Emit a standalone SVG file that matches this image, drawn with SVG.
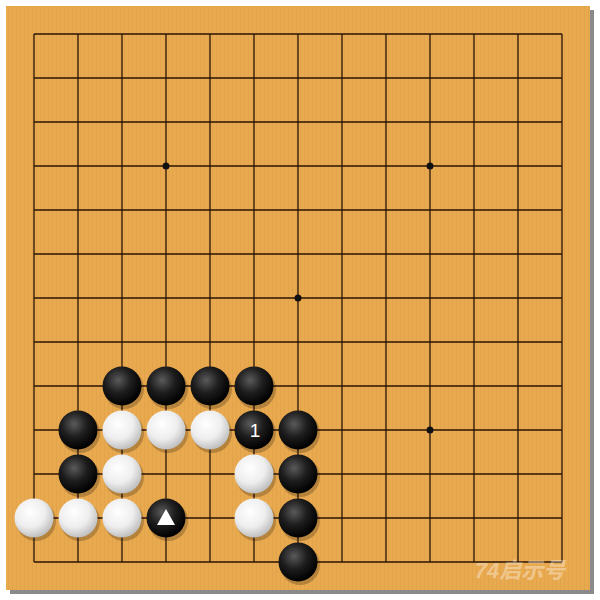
<svg xmlns="http://www.w3.org/2000/svg" width="600" height="600" viewBox="0 0 600 600">
<defs>
<style>
.grid line{stroke:#2a1408;stroke-width:1.3}
.star{fill:#111}
.b{fill:url(#gb)}
.w{fill:url(#gw)}
.sh{fill:#000;opacity:0.22}
.lbl{font-family:"Liberation Sans",Arial,sans-serif;font-size:19px;fill:#fff;text-anchor:middle}
</style>
<radialGradient id="gb" cx="0.4" cy="0.35" r="0.65">
<stop offset="0" stop-color="#5a5a5a"/>
<stop offset="0.5" stop-color="#1e1e1e"/>
<stop offset="1" stop-color="#000"/>
</radialGradient>
<radialGradient id="gw" cx="0.4" cy="0.35" r="0.7">
<stop offset="0" stop-color="#ffffff"/>
<stop offset="0.55" stop-color="#eeeeee"/>
<stop offset="1" stop-color="#b8b8b8"/>
</radialGradient>
<pattern id="wood" width="4" height="10" patternUnits="userSpaceOnUse">
<rect width="4" height="10" fill="#E9A94E"/>
<rect x="0" width="1" height="10" fill="#DDA049" opacity="0.6"/>
</pattern>
</defs>
<rect width="600" height="600" fill="#fff"/>
<rect x="10" y="10" width="584" height="584" fill="#8a8a8a"/>
<rect x="6" y="6" width="584" height="584" fill="url(#wood)"/>
<g class="grid" id="grid">
<line x1="34" y1="34" x2="562" y2="34"/><line x1="34" y1="78" x2="562" y2="78"/><line x1="34" y1="122" x2="562" y2="122"/><line x1="34" y1="166" x2="562" y2="166"/><line x1="34" y1="210" x2="562" y2="210"/><line x1="34" y1="254" x2="562" y2="254"/><line x1="34" y1="298" x2="562" y2="298"/><line x1="34" y1="342" x2="562" y2="342"/><line x1="34" y1="386" x2="562" y2="386"/><line x1="34" y1="430" x2="562" y2="430"/><line x1="34" y1="474" x2="562" y2="474"/><line x1="34" y1="518" x2="562" y2="518"/><line x1="34" y1="562" x2="562" y2="562"/>
<line x1="34" y1="34" x2="34" y2="562"/><line x1="78" y1="34" x2="78" y2="562"/><line x1="122" y1="34" x2="122" y2="562"/><line x1="166" y1="34" x2="166" y2="562"/><line x1="210" y1="34" x2="210" y2="562"/><line x1="254" y1="34" x2="254" y2="562"/><line x1="298" y1="34" x2="298" y2="562"/><line x1="342" y1="34" x2="342" y2="562"/><line x1="386" y1="34" x2="386" y2="562"/><line x1="430" y1="34" x2="430" y2="562"/><line x1="474" y1="34" x2="474" y2="562"/><line x1="518" y1="34" x2="518" y2="562"/><line x1="562" y1="34" x2="562" y2="562"/>
<circle class="star" cx="166" cy="166" r="3.5"/><circle class="star" cx="430" cy="166" r="3.5"/><circle class="star" cx="298" cy="298" r="3.5"/><circle class="star" cx="430" cy="430" r="3.5"/><circle class="star" cx="166" cy="430" r="3.5"/>
</g>
<g id="shadows">
<circle class="sh" cx="124" cy="389" r="20"/><circle class="sh" cx="168" cy="389" r="20"/><circle class="sh" cx="212" cy="389" r="20"/><circle class="sh" cx="256" cy="389" r="20"/>
<circle class="sh" cx="80" cy="433" r="20"/><circle class="sh" cx="124" cy="433" r="20"/><circle class="sh" cx="168" cy="433" r="20"/><circle class="sh" cx="212" cy="433" r="20"/><circle class="sh" cx="256" cy="433" r="20"/><circle class="sh" cx="300" cy="433" r="20"/>
<circle class="sh" cx="80" cy="477" r="20"/><circle class="sh" cx="124" cy="477" r="20"/><circle class="sh" cx="256" cy="477" r="20"/><circle class="sh" cx="300" cy="477" r="20"/>
<circle class="sh" cx="36" cy="521" r="20"/><circle class="sh" cx="80" cy="521" r="20"/><circle class="sh" cx="124" cy="521" r="20"/><circle class="sh" cx="168" cy="521" r="20"/><circle class="sh" cx="256" cy="521" r="20"/><circle class="sh" cx="300" cy="521" r="20"/>
<circle class="sh" cx="300" cy="565" r="20"/>
</g>
<g id="stone-b-r9"><circle class="b" cx="122" cy="386" r="19.5"/><circle class="b" cx="166" cy="386" r="19.5"/><circle class="b" cx="210" cy="386" r="19.5"/><circle class="b" cx="254" cy="386" r="19.5"/></g>
<g id="stones-r10"><circle class="b" cx="78" cy="430" r="19.5"/><circle class="w" cx="122" cy="430" r="19.5"/><circle class="w" cx="166" cy="430" r="19.5"/><circle class="w" cx="210" cy="430" r="19.5"/><circle class="b" cx="298" cy="430" r="19.5"/></g>
<g id="stone-1"><circle class="b" cx="254" cy="430" r="19.5"/><text class="lbl" x="255" y="437">1</text></g>
<g id="stones-r11"><circle class="b" cx="78" cy="474" r="19.5"/><circle class="w" cx="122" cy="474" r="19.5"/><circle class="w" cx="254" cy="474" r="19.5"/><circle class="b" cx="298" cy="474" r="19.5"/></g>
<g id="stones-r12"><circle class="w" cx="34" cy="518" r="19.5"/><circle class="w" cx="78" cy="518" r="19.5"/><circle class="w" cx="122" cy="518" r="19.5"/><circle class="w" cx="254" cy="518" r="19.5"/><circle class="b" cx="298" cy="518" r="19.5"/></g>
<g id="stone-triangle"><circle class="b" cx="166" cy="518" r="19.5"/><polygon points="166,509 175,525 157,525" fill="#fff"/></g>
<g id="stones-r13"><circle class="b" cx="298" cy="562" r="19.5"/></g>
<text x="520" y="578" font-family="'Liberation Sans','Noto Sans CJK SC',sans-serif" font-size="22" font-style="italic" font-weight="bold" fill="#fff" opacity="0.35" text-anchor="middle">74启示号</text>
</svg>
